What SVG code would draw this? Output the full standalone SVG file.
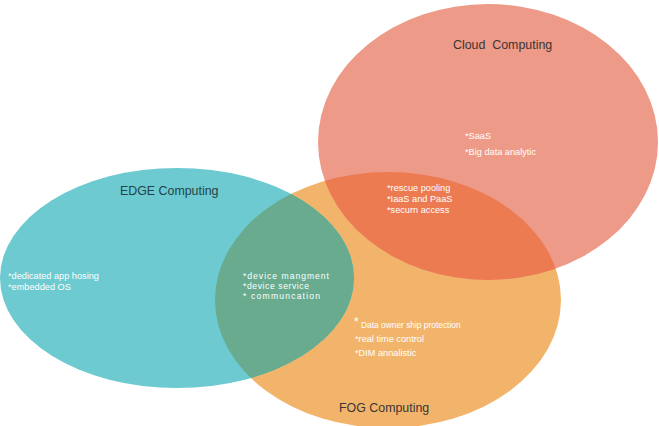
<svg xmlns="http://www.w3.org/2000/svg" width="659" height="426" viewBox="0 0 659 426">
<style>
.t{font-family:"Liberation Sans",Arial,sans-serif;font-size:12.4px;fill:#3a3535;white-space:pre}
.w{font-family:"Liberation Sans",Arial,sans-serif;font-size:9.2px;fill:#ffffff}
.o{font-family:"Liberation Sans",Arial,sans-serif;font-size:8.6px;fill:#ffffff}
</style>
<defs>
<clipPath id="cFog"><ellipse cx="388" cy="300" rx="173" ry="128"/></clipPath>
</defs>
<rect width="659" height="426" fill="#ffffff"/>
<g id="fog">
<ellipse cx="388" cy="300" rx="173" ry="128" fill="#f2b46a"/>
</g>
<g id="edge">
<ellipse cx="177" cy="278" rx="177" ry="110" fill="#6ccad0"/>
</g>
<g id="cloud">
<ellipse cx="488" cy="142" rx="170" ry="138" fill="#ee9a88"/>
</g>
<g id="overlaps" clip-path="url(#cFog)">
<ellipse cx="177" cy="278" rx="177" ry="110" fill="#68ab8e"/>
<ellipse cx="488" cy="142" rx="170" ry="138" fill="#ec7b52"/>
</g>
<g id="connectors"></g>
<g id="labels">
<text class="t" x="453" y="49" xml:space="preserve">Cloud  Computing</text>
<text class="w" x="465" y="139">*SaaS</text>
<text class="w" x="465" y="155">*Big data analytic</text>
<text class="w" x="387" y="191">*rescue pooling</text>
<text class="w" x="387" y="202">*IaaS and PaaS</text>
<text class="w" x="387" y="213">*securn access</text>
<text class="t" x="120" y="195" style="fill:#24434a">EDGE Computing</text>
<text class="w" x="8" y="279">*dedicated app hosing</text>
<text class="w" x="8" y="290">*embedded OS</text>
<text class="o" x="243" y="279" textLength="86">*device mangment</text>
<text class="o" x="243" y="289" textLength="66">*device service</text>
<text class="o" x="243" y="299" textLength="77">* communcation</text>
<text class="w" x="354" y="326" style="font-size:12px">*</text>
<text class="w" x="361" y="328" style="font-size:8.4px">Data owner ship protection</text>
<text class="w" x="355" y="342">*real time control</text>
<text class="w" x="355" y="356">*DIM annalistic</text>
<text class="t" x="339" y="412">FOG Computing</text>
</g>
</svg>
